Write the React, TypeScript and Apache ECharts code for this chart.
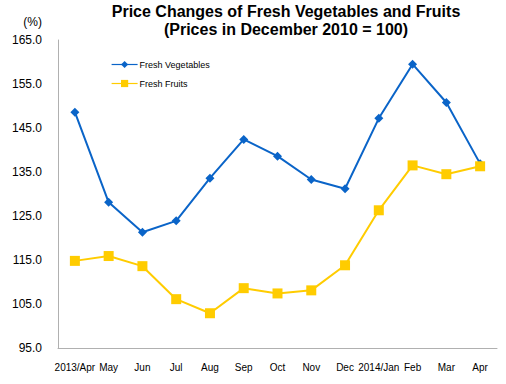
import React, { useEffect, useRef } from "react";
import * as echarts from "echarts";

const categories = ["2013/Apr", "May", "Jun", "Jul", "Aug", "Sep", "Oct", "Nov", "Dec", "2014/Jan", "Feb", "Mar", "Apr"];
const vegetables = [148.6, 128.1, 121.3, 123.9, 133.6, 142.4, 138.6, 133.3, 131.2, 147.2, 159.5, 150.8, 136.9];
const fruits = [114.8, 115.9, 113.6, 106.1, 102.9, 108.6, 107.4, 108.1, 113.8, 126.3, 136.5, 134.5, 136.3];
const axisMin = 95;
const axisMax = 165;
const axisStep = 10;

const FONT = "Liberation Sans, Arial, sans-serif";

export default function App() {
  const ref = useRef<HTMLDivElement>(null);
  useEffect(() => {
    if (!ref.current) return;
    const chart = echarts.init(ref.current, undefined, { renderer: "svg" });
    const shift = (arr: number[]) => arr.map((v) => +(v - axisMin).toFixed(2));
    chart.setOption({
      animation: false,
      backgroundColor: "#ffffff",
      textStyle: { fontFamily: FONT },
      title: {
        text: "Price Changes of Fresh Vegetables and Fruits\n(Prices in December 2010 = 100)",
        left: 286,
        top: 2,
        padding: 0,
        textAlign: "center",
        textStyle: { fontFamily: FONT, fontSize: 16, fontWeight: "bold", color: "#000", lineHeight: 18 },
      },
      graphic: [
        {
          type: "text",
          x: 42,
          y: 22,
          style: { text: "(%)", font: `12px ${FONT}`, fill: "#000", textAlign: "right", textVerticalAlign: "middle" },
        },
      ],
      legend: {
        orient: "vertical",
        left: 106,
        top: 55,
        itemWidth: 26,
        itemHeight: 9,
        itemGap: 10,
        lineStyle: { width: 1.2 },
        textStyle: { fontFamily: FONT, fontSize: 9, color: "#000", padding: [0, 0, 0, -3] },
        data: ["Fresh Vegetables", "Fresh Fruits"],
      },
      grid: { left: 58, right: 9, top: 40, bottom: 36, containLabel: false },
      xAxis: {
        type: "category",
        data: categories,
        boundaryGap: true,
        axisLine: { lineStyle: { color: "#b0b0b0", width: 1 } },
        axisTick: { show: false },
        axisLabel: { interval: 0, color: "#000", fontFamily: FONT, fontSize: 10, margin: 14 },
      },
      yAxis: {
        type: "value",
        min: 0,
        max: axisMax - axisMin,
        interval: axisStep,
        axisLine: { show: true, lineStyle: { color: "#b0b0b0", width: 1 } },
        axisTick: { show: false },
        splitLine: { show: false },
        axisLabel: {
          color: "#000",
          fontFamily: FONT,
          fontSize: 12,
          margin: 16,
          formatter: (v: number) => (v + axisMin).toFixed(1),
        },
      },
      series: [
        {
          name: "Fresh Vegetables",
          type: "line",
          data: shift(vegetables),
          symbol: "diamond",
          symbolSize: 9,
          color: "#0a64c8",
          lineStyle: { width: 2, color: "#0a64c8" },
          itemStyle: { color: "#0a64c8" },
        },
        {
          name: "Fresh Fruits",
          type: "line",
          data: shift(fruits),
          symbol: "rect",
          symbolSize: 10,
          color: "#ffcc00",
          lineStyle: { width: 2, color: "#ffcc00" },
          itemStyle: { color: "#ffcc00" },
        },
      ],
    });
    return () => chart.dispose();
  }, []);
  return <div ref={ref} style={{ width: 506, height: 384, position: "absolute", left: 0, top: 0 }} />;
}
